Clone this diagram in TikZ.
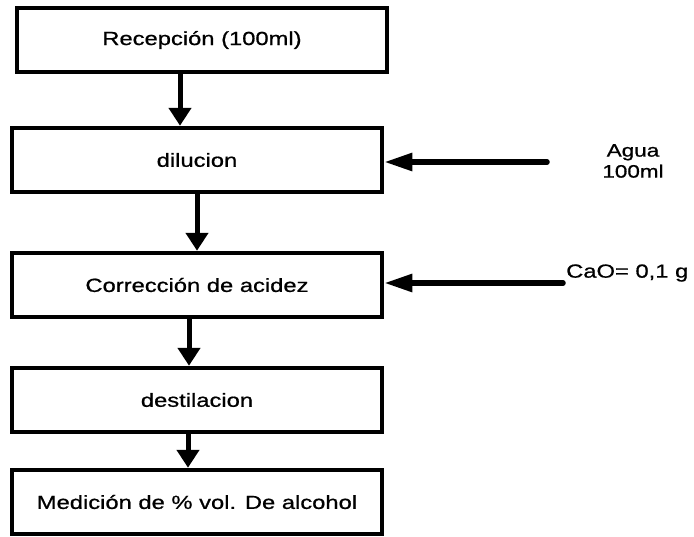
\documentclass[tikz,border=0pt]{standalone}
\usepackage{fontspec}
\setmainfont{Liberation Sans}[FakeStretch=1.25,FakeBold=0.8]
\usetikzlibrary{arrows.meta}

\begin{document}
\begin{tikzpicture}[x=1pt,y=-1pt,
  paso/.style={draw,line width=4.5pt,minimum width=370pt,minimum height=64pt,font=\fontsize{19}{21}\selectfont},
  flujo/.style={line width=5pt,-{Triangle[length=18pt,width=22pt]}},
  entrada/.style={line width=5.5pt,line cap=round,-{Triangle[length=28pt,width=17pt]}}]
\useasboundingbox (0,0) rectangle (694,536);
\def\flecha#1#2#3{\draw[flujo] ([xshift=#3]#1.south) -- ([xshift=#3]#1.south |- #2.north);}
\node[paso] at (202,40) (rec) {Recepción (100ml)};
\node[paso] at (197,160) (dil) {dilucion};
\node[paso] at (197,285) (cor) {Corrección de acidez};
\node[paso] at (197,400) (des) {destilacion};
\node[paso] at (197,502) (med) {Medición de \% vol. De alcohol};

\flecha{rec}{dil}{-22pt}
\flecha{dil}{cor}{0pt}
\flecha{cor}{des}{-8pt}
\flecha{des}{med}{-9pt}

\coordinate (agua0) at (547,162);
\coordinate (cao0) at (563,283);
\node[align=center,font=\fontsize{18}{18}\selectfont] at (633,161) (agua) {Agua\\[3pt]100ml};
\node[anchor=west,inner sep=0pt,font=\fontsize{19}{19}\selectfont] at (566,273) (cao) {CaO= 0,1 g};
\draw[entrada] (agua0) -- (agua0 -| dil.east);
\draw[entrada] (cao0) -- (cao0 -| cor.east);
\end{tikzpicture}
\end{document}
